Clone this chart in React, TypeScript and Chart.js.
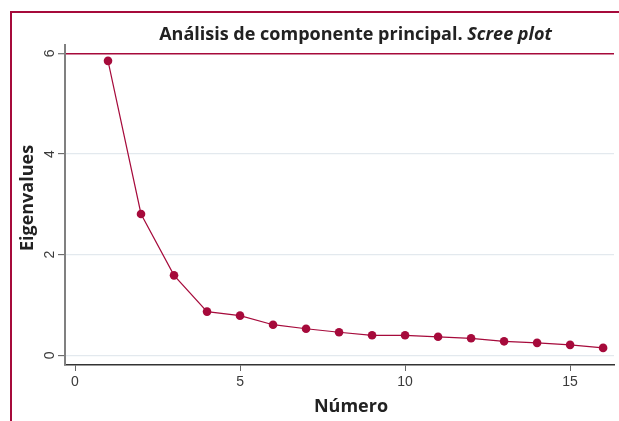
import React, { useEffect, useRef } from "react";
import { Chart, registerables } from "chart.js";

Chart.register(...registerables);

const components = [1, 2, 3, 4, 5, 6, 7, 8, 9, 10, 11, 12, 13, 14, 15, 16];
const eigenvalues = [5.85, 2.81, 1.59, 0.87, 0.79, 0.61, 0.53, 0.46, 0.4, 0.4, 0.37, 0.34, 0.28, 0.25, 0.21, 0.15];
const xTicks = [0, 5, 10, 15];
const yTicks = [0, 2, 4, 6];
const referenceLine = 6;
const titleMain = "Análisis de componente principal. ";
const titleItalic = "Scree plot";
const xTitle = "Número";
const yTitle = "Eigenvalues";

const CRIMSON = "#a60a3b";
const GRID = "#e3e9ee";
const TITLE_FONT = "'Open Sans', 'Noto Sans', sans-serif";
const TICK_FONT = "'Liberation Sans', Arial, sans-serif";

const decorPlugin = {
  id: "decor",
  beforeDraw(chart: any) {
    const ctx = chart.ctx;
    ctx.save();
    ctx.fillStyle = "#ffffff";
    ctx.fillRect(0, 0, chart.width, chart.height);
    ctx.fillStyle = CRIMSON;
    ctx.fillRect(10, 11, chart.width - 10, 2);
    ctx.fillRect(10, 11, 2, chart.height - 11);
    ctx.restore();
  },
  afterDraw(chart: any) {
    const ctx = chart.ctx;
    ctx.save();
    ctx.fillStyle = "#222222";
    ctx.textBaseline = "alphabetic";
    const f1 = `700 18px ${TITLE_FONT}`;
    const f2 = `italic 700 18px ${TITLE_FONT}`;
    ctx.font = f1;
    const w1 = ctx.measureText(titleMain).width;
    ctx.font = f2;
    const w2 = ctx.measureText(titleItalic).width;
    const x0 = 355.5 - (w1 + w2) / 2;
    ctx.textAlign = "left";
    ctx.font = f1;
    ctx.fillText(titleMain, x0, 40);
    ctx.font = f2;
    ctx.fillText(titleItalic, x0 + w1, 40);

    ctx.font = `700 18px ${TITLE_FONT}`;
    ctx.textAlign = "center";
    ctx.textBaseline = "middle";
    ctx.fillText(xTitle, 351, 407);
    ctx.translate(28, 198);
    ctx.rotate(-Math.PI / 2);
    ctx.fillText(yTitle, 0, 0);
    ctx.restore();
  },
};

export default function App() {
  const ref = useRef<HTMLCanvasElement | null>(null);
  useEffect(() => {
    if (!ref.current) return;
    const chart = new Chart(ref.current, {
      type: "scatter",
      data: {
        datasets: [
          {
            data: components.map((c, i) => ({ x: c, y: eigenvalues[i] })),
            showLine: true,
            borderColor: CRIMSON,
            borderWidth: 1.2,
            backgroundColor: CRIMSON,
            pointBackgroundColor: CRIMSON,
            pointBorderWidth: 0,
            pointRadius: 4.3,
          },
        ],
      },
      plugins: [decorPlugin],
      options: {
        responsive: false,
        maintainAspectRatio: false,
        animation: false,
        layout: { padding: { left: 0, top: 45, right: 5, bottom: 0 } },
        plugins: { legend: { display: false }, tooltip: { enabled: false }, title: { display: false } },
        scales: {
          x: {
            type: "linear",
            min: -0.303,
            max: 16.33,
            afterBuildTicks: (s: any) => {
              s.ticks = xTicks.map((v) => ({ value: v }));
            },
            afterFit: (s: any) => {
              s.height = 56;
            },
            border: { display: true, color: "#333333", width: 1.5 },
            grid: { drawOnChartArea: false, drawTicks: true, tickLength: 6, tickColor: "#666666", tickWidth: 1 },
            ticks: { color: "#3a3a3a", font: { family: TICK_FONT, size: 14 }, padding: 3, maxRotation: 0 },
          },
          y: {
            type: "linear",
            min: -0.19,
            max: 6.165,
            afterBuildTicks: (s: any) => {
              s.ticks = yTicks.map((v) => ({ value: v }));
            },
            afterFit: (s: any) => {
              s.width = 65;
            },
            border: { display: true, color: "#808080", width: 2 },
            grid: {
              color: (c: any) => (c.tick && c.tick.value === referenceLine ? CRIMSON : GRID),
              lineWidth: (c: any) => (c.tick && c.tick.value === referenceLine ? 1.5 : 1.3),
              drawTicks: true,
              tickLength: 7,
              tickColor: "#555555",
              tickWidth: 1,
            },
            ticks: {
              color: "#3a3a3a",
              font: { family: TICK_FONT, size: 14 },
              minRotation: 90,
              maxRotation: 90,
              crossAlign: "center",
              padding: 4,
            },
          },
        },
      },
    });
    return () => chart.destroy();
  }, []);
  return (
    <div style={{ position: "fixed", left: 0, top: 0, width: 619, height: 421, background: "#fff" }}>
      <canvas ref={ref} width={619} height={421} style={{ display: "block", width: 619, height: 421 }} />
    </div>
  );
}
